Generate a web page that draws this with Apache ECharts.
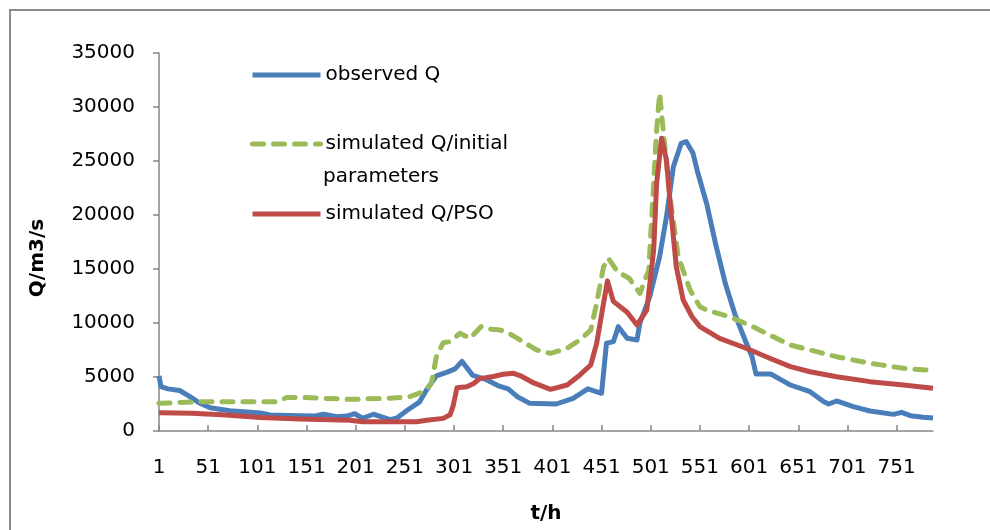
<!DOCTYPE html>
<html>
<head>
<meta charset="utf-8">
<script src="https://cdn.jsdelivr.net/npm/echarts@6/dist/echarts.min.js"></script>
<style>
  html, body { margin: 0; padding: 0; background: #fff; }
  #main { width: 990px; height: 530px; }
</style>
</head>
<body>
<div id="main"></div>
<script>
// values: [t (h), Q (m3/s)]
var observedQ = [
    [1, 5100], [3, 4100], [10, 3900], [22, 3750], [32, 3200], [42, 2600], [53, 2150],
    [73, 1880], [104, 1660], [114, 1480], [144, 1420], [160, 1400], [168, 1550],
    [182, 1330], [192, 1380], [200, 1600], [208, 1180], [219, 1550], [229, 1270],
    [236, 1050], [243, 1200], [253, 1900], [266, 2700], [273, 3800], [283, 5100],
    [294, 5450], [302, 5750], [309, 6450], [320, 5150], [334, 4750], [347, 4150],
    [356, 3900], [365, 3200], [378, 2560], [405, 2500], [422, 3030], [437, 3900],
    [451, 3490], [456, 8120], [463, 8270], [468, 9660], [477, 8580], [487, 8430],
    [490, 10000], [500, 12440], [510, 16140], [517, 19840], [524, 24470], [532, 26640],
    [537, 26800], [544, 25710], [549, 23860], [558, 21000], [567, 17300], [577, 13600],
    [587, 10700], [597, 8400], [604, 6880], [608, 5280], [623, 5280], [635, 4660],
    [643, 4260], [663, 3640], [677, 2710], [682, 2500], [690, 2780], [707, 2250],
    [724, 1850], [748, 1540], [756, 1730], [765, 1420], [778, 1270], [788, 1200]
];
var initialQ = [
    [1, 2560], [42, 2710], [120, 2710], [131, 3100], [144, 3120], [195, 2930],
    [236, 3030], [256, 3180], [265, 3490], [270, 3640], [278, 4410], [283, 6880],
    [288, 7810], [290, 8180], [297, 8270], [307, 9050], [317, 8580], [329, 9700],
    [339, 9420], [348, 9350], [356, 9100], [368, 8430], [385, 7500], [399, 7190],
    [416, 7660], [429, 8430], [440, 9350], [446, 11830], [453, 15210], [458, 15990],
    [467, 14760], [479, 14140], [490, 12750], [499, 14910], [507, 27870], [510, 31270],
    [514, 27570], [520, 22010], [529, 16140], [541, 13060], [551, 11510], [558, 11200],
    [581, 10580], [605, 9660], [622, 8890], [643, 7960], [663, 7500], [690, 6880],
    [724, 6270], [758, 5810], [788, 5590]
];
var psoQ = [
    [1, 1700], [34, 1650], [35, 1550], [65, 1500], [66, 1400], [104, 1250], [144, 1100],
    [195, 1000], [208, 860], [263, 860], [273, 1000], [290, 1170], [297, 1500],
    [300, 2300], [304, 4000], [314, 4100], [321, 4400], [327, 4850], [341, 5050],
    [351, 5250], [361, 5350], [370, 5050], [382, 4450], [399, 3860], [416, 4260],
    [429, 5190], [440, 6110], [446, 8120], [453, 11830], [457, 13900], [463, 12000],
    [477, 11000], [487, 9820], [497, 11200], [504, 16760], [507, 22940], [512, 27100],
    [517, 25100], [522, 19840], [527, 15210], [534, 12130], [543, 10580], [551, 9660],
    [571, 8580], [598, 7660], [622, 6730], [643, 5960], [663, 5490], [690, 5030],
    [724, 4570], [758, 4260], [788, 3950]
];
var xTicks = [1, 51, 101, 151, 201, 251, 301, 351, 401, 451, 501, 551, 601, 651, 701, 751];
var seriesNames = ['observed Q', 'simulated Q/initial parameters', 'simulated Q/PSO'];

var myChart = echarts.init(document.getElementById('main'));

var font = 'DejaVu Sans';
var axisGray = '#868686';
var lineW = 5;

function makeLegend(name, top, label)
{
    return {
        data: [name],
        left: 250,
        top: top,
        padding: 0,
        itemWidth: 68,
        itemHeight: 24,
        itemStyle: { opacity: 0 },
        lineStyle: { width: lineW },
        formatter: function () { return label; },
        textStyle: { fontFamily: font, fontSize: 20, color: '#000' }
    };
}

var option = {
    animation: false,
    backgroundColor: '#fff',
    grid: {
        left: 159,
        right: 57,
        top: 53,
        bottom: 99,
        containLabel: false,
        outerBoundsMode: 'none'
    },
    legend: [
        makeLegend(seriesNames[0], 65, 'observed Q'),
        makeLegend(seriesNames[1], 134, 'simulated Q/initial'),
        makeLegend(seriesNames[2], 204, 'simulated Q/PSO')
    ],
    graphic: [
        {
            type: 'rect',
            silent: true,
            shape: { x: 10, y: 10, width: 1000, height: 600 },
            style: { fill: null, stroke: '#8c8c8c', lineWidth: 2 }
        },
        {
            type: 'text',
            left: 323,
            top: 167,
            style: { text: 'parameters', font: '20px "DejaVu Sans"', fill: '#000' }
        },
        {
            type: 'text',
            x: 38,
            y: 258,
            rotation: Math.PI / 2,
            style: {
                text: 'Q/m3/s',
                font: 'bold 20px "DejaVu Sans"',
                fill: '#000',
                align: 'center',
                verticalAlign: 'middle'
            }
        }
    ],
    xAxis: {
        type: 'value',
        min: 1,
        max: 788,
        name: 't/h',
        nameLocation: 'middle',
        nameGap: 73,
        nameTextStyle: { fontFamily: font, fontSize: 20, fontWeight: 'bold', color: '#000' },
        splitLine: { show: false },
        axisLine: { lineStyle: { color: axisGray, width: 1.5 } },
        axisTick: {
            inside: true,
            length: 6,
            customValues: xTicks,
            lineStyle: { color: axisGray, width: 1.5 }
        },
        axisLabel: {
            customValues: xTicks,
            margin: 27,
            fontFamily: font,
            fontSize: 20,
            color: '#000'
        }
    },
    yAxis: {
        type: 'value',
        min: 0,
        max: 35000,
        interval: 5000,
        splitLine: { show: false },
        axisLine: { show: true, lineStyle: { color: axisGray, width: 1.5 } },
        axisTick: { show: true, length: 6, lineStyle: { color: axisGray, width: 1.5 } },
        axisLabel: {
            margin: 24,
            fontFamily: font,
            fontSize: 20,
            color: '#000',
            formatter: function (v) { return String(v); }
        }
    },
    series: [
        {
            name: seriesNames[0],
            type: 'line',
            symbol: 'none',
            data: observedQ,
            itemStyle: { color: '#4A7EBB' },
            lineStyle: { color: '#4A7EBB', width: lineW, join: 'round' }
        },
        {
            name: seriesNames[1],
            type: 'line',
            symbol: 'none',
            data: initialQ,
            itemStyle: { color: '#9BBB59' },
            lineStyle: { color: '#9BBB59', width: lineW, type: [11, 10], cap: 'round', join: 'round' }
        },
        {
            name: seriesNames[2],
            type: 'line',
            symbol: 'none',
            data: psoQ,
            itemStyle: { color: '#BE4B48' },
            lineStyle: { color: '#BE4B48', width: lineW, join: 'round' }
        }
    ]
};

myChart.setOption(option);
</script>
</body>
</html>
